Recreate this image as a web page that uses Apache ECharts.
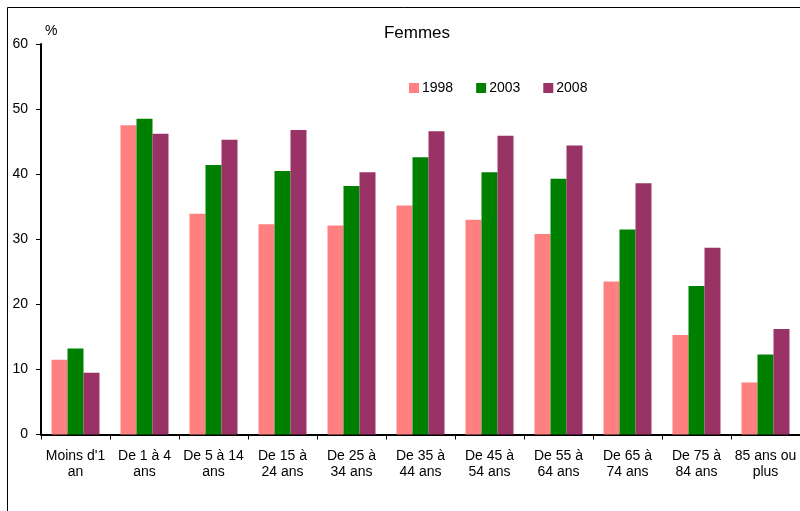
<!DOCTYPE html>
<html>
<head>
<meta charset="utf-8">
<script src="https://cdn.jsdelivr.net/npm/echarts@6/dist/echarts.min.js"></script>
<style>
  html, body { margin: 0; padding: 0; background: #fff; }
  #chart { width: 800px; height: 511px; }
</style>
</head>
<body>
<div id="chart"></div>
<script>
// Age groups (x axis)
const categories = [
  "Moins d'1\nan", "De 1 à 4\nans", "De 5 à 14\nans", "De 15 à\n24 ans",
  "De 25 à\n34 ans", "De 35 à\n44 ans", "De 45 à\n54 ans", "De 55 à\n64 ans",
  "De 65 à\n74 ans", "De 75 à\n84 ans", "85 ans ou\nplus"
];
// Share of women (%) per survey year
const values1998 = [11.5, 47.5, 33.9, 32.3, 32.1, 35.2, 33.0, 30.8, 23.5, 15.3, 8.0];
const values2003 = [13.2, 48.5, 41.4, 40.5, 38.2, 42.6, 40.3, 39.3, 31.5, 22.8, 12.3];
const values2008 = [9.5, 46.2, 45.3, 46.8, 40.3, 46.6, 45.9, 44.4, 38.6, 28.7, 16.2];
const yTicks = [0, 10, 20, 30, 40, 50, 60];

const font = "'Liberation Sans', Arial, sans-serif";
const chart = echarts.init(document.getElementById('chart'));

function barSeries(name, data, color) {
  return {
    name: name,
    type: 'bar',
    data: data,
    barWidth: 16,
    barGap: '0%',
    itemStyle: { color: color },
    emphasis: { disabled: true }
  };
}

chart.setOption({
  animation: false,
  textStyle: { fontFamily: font },
  title: {
    text: 'Femmes',
    left: 412,
    top: 20,
    textAlign: 'center',
    textStyle: { fontFamily: font, fontSize: 17, fontWeight: 'normal', color: '#000' }
  },
  legend: {
    left: 409,
    top: 81,
    padding: 0,
    itemWidth: 10,
    itemHeight: 10,
    itemGap: 23,
    icon: 'rect',
    textStyle: { fontFamily: font, fontSize: 14, color: '#000', padding: [0, 0, 0, -2] },
    data: ['1998', '2003', '2008']
  },
  grid: { left: 41, top: 44, width: 762, height: 390.5 },
  xAxis: {
    type: 'category',
    data: categories,
    axisLine: { lineStyle: { color: '#000', width: 2 } },
    axisTick: { show: true, length: 5, lineStyle: { color: '#000', width: 1 } },
    axisLabel: {
      interval: 0,
      margin: 14,
      fontFamily: font,
      fontSize: 14,
      lineHeight: 16,
      color: '#000'
    }
  },
  yAxis: {
    type: 'value',
    min: yTicks[0],
    max: yTicks[yTicks.length - 1],
    interval: 10,
    name: '%',
    nameLocation: 'end',
    nameGap: 6,
    nameTextStyle: { fontFamily: font, fontSize: 14, color: '#000', align: 'left', padding: [0, 0, 0, 4] },
    splitLine: { show: false },
    axisLine: { show: true, lineStyle: { color: '#000', width: 2 } },
    axisTick: { show: true, length: 5, lineStyle: { color: '#000', width: 1 } },
    axisLabel: { fontFamily: font, fontSize: 14, color: '#000', margin: 13 }
  },
  graphic: [{
    type: 'rect',
    shape: { x: 7.5, y: 7.5, width: 800, height: 520 },
    style: { fill: null, stroke: '#000', lineWidth: 1 },
    silent: true,
    z: -1
  }],
  series: [
    barSeries('1998', values1998, '#FF8080'),
    barSeries('2003', values2003, '#008000'),
    barSeries('2008', values2008, '#993366')
  ]
});
</script>
</body>
</html>
